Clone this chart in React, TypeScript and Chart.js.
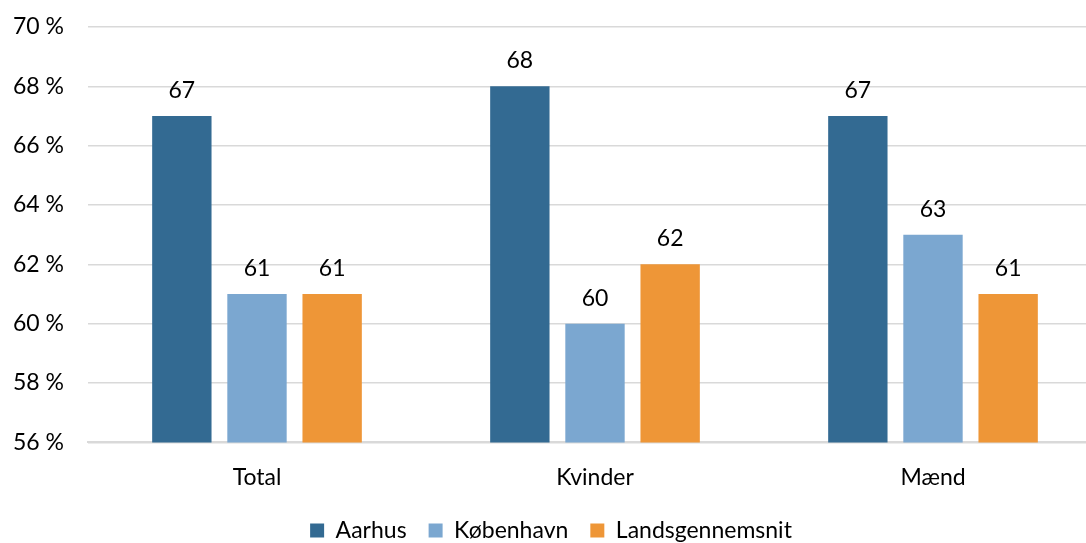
import React, { useEffect, useRef } from "react";
import { Chart, registerables } from "chart.js";

Chart.register(...registerables);

const categories = ["Total", "Kvinder", "Mænd"];
const seriesNames = ["Aarhus", "København", "Landsgennemsnit"];
const aarhus = [67, 68, 67];
const koebenhavn = [61, 60, 63];
const lands = [61, 62, 61];
const colors = ["#336a92", "#7ba7d0", "#ee9637"];
const FONT = "Lato, 'Open Sans', sans-serif";
const FS = 23;

const labelPlugin = {
  id: "barLabels",
  afterDatasetsDraw(chart: any) {
    const ctx = chart.ctx;
    ctx.save();
    ctx.font = `${FS}px ${FONT}`;
    ctx.fillStyle = "#000";
    ctx.textAlign = "center";
    ctx.textBaseline = "bottom";
    chart.data.datasets.forEach((ds: any, i: number) => {
      const meta = chart.getDatasetMeta(i);
      meta.data.forEach((bar: any, j: number) => {
        ctx.fillText(String(ds.data[j]), bar.x, bar.y - 14);
      });
    });
    ctx.restore();
  },
};

export default function App() {
  const ref = useRef<HTMLCanvasElement>(null);
  useEffect(() => {
    if (!ref.current) return;
    const data = [aarhus, koebenhavn, lands];
    const chart = new Chart(ref.current, {
      type: "bar",
      data: {
        labels: categories,
        datasets: seriesNames.map((n, i) => ({
          label: n,
          data: data[i],
          backgroundColor: colors[i],
          barPercentage: 0.79,
          categoryPercentage: 0.667,
        })),
      },
      options: {
        animation: false,
        responsive: true,
        maintainAspectRatio: false,
        layout: { padding: { top: 27, right: 0, left: 0, bottom: 0 } },
        plugins: {
          legend: {
            position: "bottom",
            align: "center",
            labels: {
              font: { size: FS, family: FONT },
              color: "#000",
              boxWidth: 14,
              boxHeight: 14,
              padding: 22,
            },
          },
          tooltip: { enabled: false },
        },
        scales: {
          x: {
            grid: { display: false },
            border: { color: "#d9d9d9", width: 2 },
            ticks: { font: { size: FS, family: FONT }, color: "#000", padding: 13 },
            afterFit: (s: any) => {
              s.height = s.height - 7;
            },
          },
          y: {
            min: 56,
            max: 70,
            ticks: {
              stepSize: 2,
              font: { size: FS, family: FONT },
              color: "#000",
              padding: 24,
              callback: (v: any) => `${v} %`,
            },
            grid: { color: "#d9d9d9", lineWidth: 1.5, drawTicks: false },
            border: { display: false },
            afterFit: (s: any) => {
              s.width = 88;
              s.paddingTop = 0;
              s.paddingBottom = 0;
            },
          },
        },
      },
      plugins: [labelPlugin],
    });
    return () => chart.destroy();
  }, []);
  return (
    <div style={{ position: "fixed", left: 0, top: 0, width: 1086, height: 543, overflow: "hidden", background: "#fff" }}>
      <div style={{ position: "absolute", left: 0, top: 0, width: 1102, height: 552 }}>
        <canvas ref={ref} />
      </div>
    </div>
  );
}
